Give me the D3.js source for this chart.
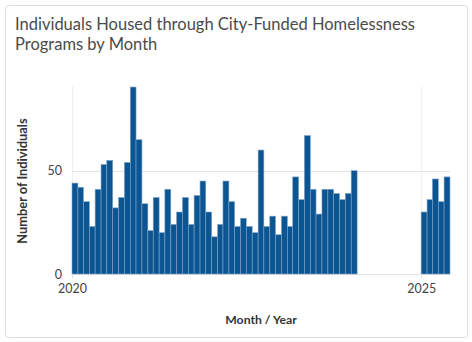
<!DOCTYPE html>
<html><head><meta charset="utf-8">
<script src="https://cdn.jsdelivr.net/npm/d3@7"></script>
<style>
html,body{margin:0;padding:0;background:#fff;}
svg{display:block;}
</style></head>
<body>
<svg id="chart" width="472" height="342"></svg>
<script>
const months = [
 "2020-01","2020-02","2020-03","2020-04","2020-05","2020-06","2020-07","2020-08","2020-09","2020-10","2020-11","2020-12",
 "2021-01","2021-02","2021-03","2021-04","2021-05","2021-06","2021-07","2021-08","2021-09","2021-10","2021-11","2021-12",
 "2022-01","2022-02","2022-03","2022-04","2022-05","2022-06","2022-07","2022-08","2022-09","2022-10","2022-11","2022-12",
 "2023-01","2023-02","2023-03","2023-04","2023-05","2023-06","2023-07","2023-08","2023-09","2023-10","2023-11","2023-12",
 "2024-01",
 "2025-01","2025-02","2025-03","2025-04","2025-05"
];
const individuals = [
 44,42,35,23,41,53,55,32,37,54,90.5,65,
 34,21,37,20,41,24,30,37,24,38,45,30,
 18,24,45,35,23,27,23,20,60,23,28,19,
 28,23,47,36,67,41,29,41,41,39,36,39,
 50,
 30,36,46,35,47
];
const yTicks = [0, 50];
const xTickYears = ["2020-01", "2025-01"];
const xTickLabels = ["2020", "2025"];
const titleLines = ["Individuals Housed through City-Funded Homelessness", "Programs by Month"];

const svg = d3.select("#chart");
const parse = d3.utcParse("%Y-%m");
const data = months.map((m, i) => ({date: parse(m), value: individuals[i]}));

// card
svg.append("rect").attr("x", 5.5).attr("y", 5.5).attr("width", 462).attr("height", 332)
  .attr("rx", 3).attr("fill", "#fff").attr("stroke", "#dedede");

// title
svg.append("text").attr("x", 15).attr("y", 30)
  .attr("font-family", "Lato, sans-serif").attr("font-size", 16.5).attr("fill", "#4b4b4b")
  .selectAll("tspan").data(titleLines).join("tspan")
  .attr("x", 15).attr("dy", (d, i) => i === 0 ? 0 : 20).text(d => d);

const x0 = 72, x1 = 450, yTop = 86, yBottom = 274;
const x = d3.scaleUtc()
  .domain([parse("2020-01"), parse("2025-06")])
  .range([x0, x1]);
const y = d3.scaleLinear().domain([0, 91]).range([yBottom, yTop]);

// grid
const g = svg.append("g");
g.selectAll("line.vg").data(xTickYears).join("line").attr("class", "vg")
  .attr("x1", d => x(parse(d)) + 0.5).attr("x2", d => x(parse(d)) + 0.5)
  .attr("y1", yTop).attr("y2", yBottom)
  .attr("stroke", "#efefef");
g.selectAll("line.hg").data(yTicks).join("line").attr("class", "hg")
  .attr("x1", x0).attr("x2", x1)
  .attr("y1", d => Math.round(y(d)) + 0.5).attr("y2", d => Math.round(y(d)) + 0.5)
  .attr("stroke", "#e3e3e3");

// bars
svg.append("g").selectAll("rect").data(data).join("rect")
  .attr("x", d => x(d.date))
  .attr("width", d => x(d3.utcMonth.offset(d.date, 1)) - x(d.date))
  .attr("y", d => y(d.value))
  .attr("height", d => y(0) - y(d.value))
  .attr("fill", "#0c5593")
  .attr("stroke", "#7fa3c6").attr("stroke-width", 0.6);

// y axis
const yAxis = d3.axisLeft(y).tickValues(yTicks).tickSize(0).tickPadding(10);
const ya = svg.append("g").attr("transform", `translate(${x0},0)`).call(yAxis);
ya.select(".domain").remove();
ya.selectAll("text").attr("font-family", "Lato, sans-serif").attr("font-size", 12.5).attr("fill", "#444");

// x axis
const xAxis = d3.axisBottom(x).tickValues(xTickYears.map(parse))
  .tickFormat((d, i) => xTickLabels[i]).tickSize(4).tickPadding(6);
const xa = svg.append("g").attr("transform", `translate(0,${yBottom})`).call(xAxis);
xa.select(".domain").remove();
xa.selectAll("line").attr("stroke", "#dddddd");
xa.selectAll("text").attr("font-family", "Lato, sans-serif").attr("font-size", 12.5).attr("fill", "#444");

// axis titles
svg.append("text").attr("transform", "translate(27,181) rotate(-90)")
  .attr("text-anchor", "middle").attr("font-family", "Lato, sans-serif")
  .attr("font-weight", "bold").attr("font-size", 12.8).attr("fill", "#333")
  .text("Number of Individuals");
svg.append("text").attr("x", 261).attr("y", 324)
  .attr("text-anchor", "middle").attr("font-family", "Lato, sans-serif")
  .attr("font-weight", "bold").attr("font-size", 12.2).attr("fill", "#333")
  .text("Month / Year");
</script>
</body></html>
